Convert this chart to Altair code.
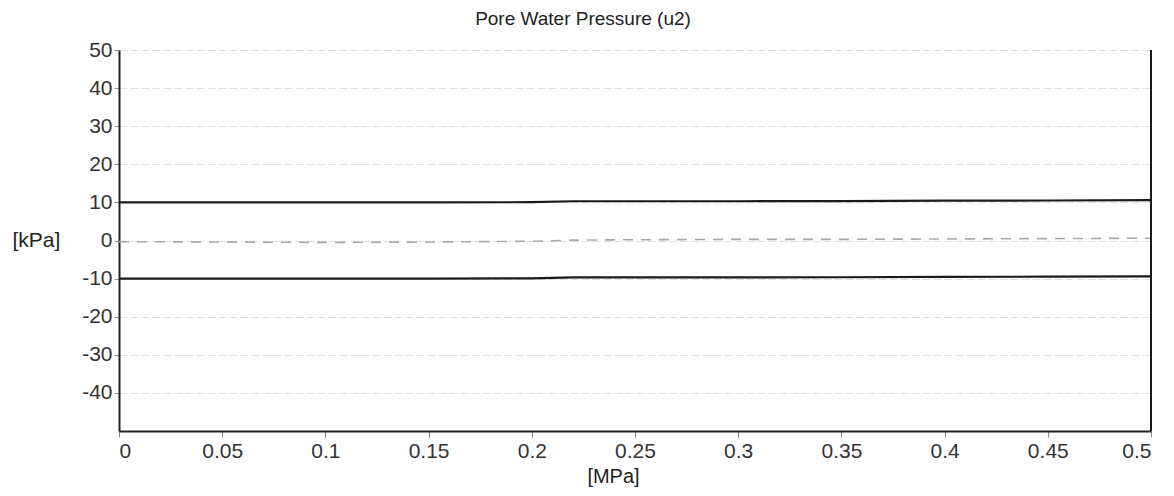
import altair as alt
import pandas as pd

# Data
x_vals = [0.0, 0.05, 0.1, 0.15, 0.2, 0.22, 0.25, 0.3, 0.35, 0.4, 0.45, 0.5]
upper = [10.0, 10.0, 10.0, 10.0, 10.05, 10.3, 10.3, 10.3, 10.35, 10.45, 10.5, 10.6]
lower = [-10.0, -10.0, -10.0, -10.0, -9.95, -9.7, -9.7, -9.7, -9.65, -9.55, -9.5, -9.4]
zero = [-0.3, -0.4, -0.5, -0.4, -0.2, 0.1, 0.2, 0.3, 0.3, 0.4, 0.5, 0.6]

y_ticks = [-40, -30, -20, -10, 0, 10, 20, 30, 40, 50]
x_ticks = [0, 0.05, 0.1, 0.15, 0.2, 0.25, 0.3, 0.35, 0.4, 0.45, 0.5]

rows = []
for name, series in [("upper", upper), ("lower", lower), ("zero", zero)]:
    for xv, yv in zip(x_vals, series):
        rows.append({"x": xv, "y": yv, "series": name})
df = pd.DataFrame(rows)

FONT = "Liberation Sans"

xscale = alt.Scale(domain=[0, 0.5], nice=False, zero=False)
yscale = alt.Scale(domain=[-50, 50], nice=False, zero=False)

xaxis = alt.Axis(
    values=x_ticks, format="~g", title="[MPa]", grid=False,
    domainColor="#222", domainWidth=2, tickColor="#888", tickSize=6,
    labelFont=FONT, labelFontSize=21, labelColor="#333", labelPadding=3,
    titleFont=FONT, titleFontSize=20, titleFontWeight="normal", titleColor="#222",
    titleX=494, titleY=45, titleBaseline="middle", titleAnchor="start", titleAlign="center",
)
yaxis = alt.Axis(
    values=y_ticks, labelExpr="datum.value", title="[kPa]", grid=True,
    gridColor="#e0e0e0", gridDash=[8, 3], gridWidth=1.2,
    domainColor="#222", domainWidth=2, tickColor="#999", tickSize=5,
    labelFont=FONT, labelFontSize=21, labelColor="#333", labelPadding=2,
    titleFont=FONT, titleFontSize=21, titleFontWeight="normal", titleColor="#222",
    titleAngle=0, titleX=-107, titleY=190, titleAlign="left", titleBaseline="middle",
)

base = alt.Chart(df)

solid = base.transform_filter(alt.datum.series != "zero").mark_line(
    color="#1a1a1a", strokeWidth=2.2
).encode(
    x=alt.X("x:Q", scale=xscale, axis=xaxis),
    y=alt.Y("y:Q", scale=yscale, axis=yaxis),
    detail="series:N",
)

dashed = base.transform_filter(alt.datum.series == "zero").mark_line(
    color="#a8a8a8", strokeWidth=1.6, strokeDash=[10, 8]
).encode(
    x=alt.X("x:Q", scale=xscale),
    y=alt.Y("y:Q", scale=yscale),
)

right_border = alt.Chart(pd.DataFrame({"a": [0]})).transform_calculate(
    xr="0.5", y1="-50", y2="50"
).mark_rule(color="#1a1a1a", strokeWidth=2).encode(
    x=alt.X("xr:Q", scale=xscale),
    y=alt.Y("y1:Q", scale=yscale),
    y2="y2:Q",
)

chart = alt.layer(solid, dashed, right_border).properties(
    width=1032,
    height=381,
    title=alt.TitleParams(
        "Pore Water Pressure (u2)", font=FONT, fontSize=19, fontWeight="normal",
        color="#222", anchor="middle", dx=-52, offset=10,
    ),
    autosize=alt.AutoSizeParams(type="none"),
    padding={"left": 111, "top": 42, "right": 15, "bottom": 60},
).configure_view(stroke=None)

chart.save("out.html", embed_options={"renderer": "svg", "actions": False})
